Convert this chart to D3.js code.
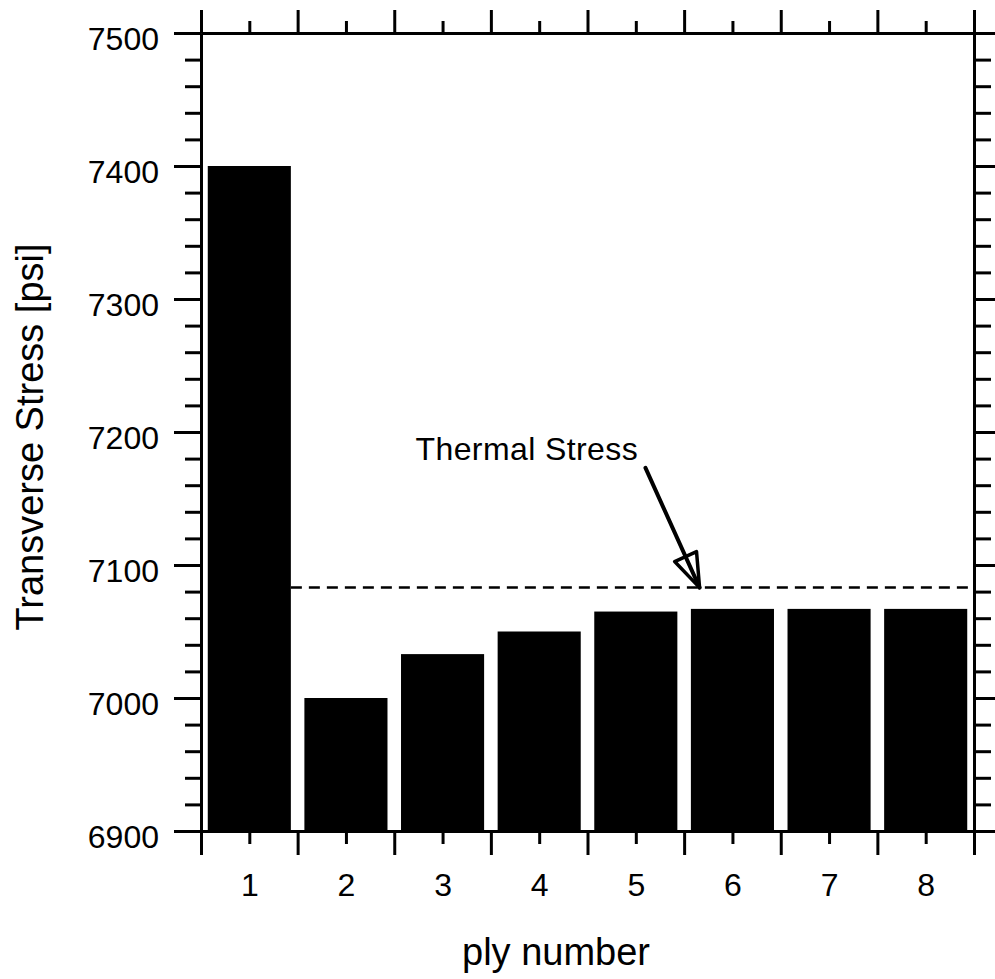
<!DOCTYPE html>
<html>
<head>
<meta charset="utf-8">
<script src="https://cdn.jsdelivr.net/npm/d3@7"></script>
<style>
  html, body { margin: 0; padding: 0; background: #fff; }
  svg { display: block; }
  text { font-family: "Liberation Sans", Arial, Helvetica, sans-serif; fill: #000; }
</style>
</head>
<body>
<svg id="chart" width="995" height="979"></svg>
<script>
// Transverse stress per ply, with the thermal-stress reference level
const plies = [1, 2, 3, 4, 5, 6, 7, 8];
const stress = [7400, 7000, 7033, 7050, 7065, 7067, 7067, 7067];
const thermalStress = 7083;
const yMajorTicks = [6900, 7000, 7100, 7200, 7300, 7400, 7500];
const yMinorTicks = d3.range(6900, 7501, 20).filter(v => v % 100 !== 0);
const xTickLabels = ["1", "2", "3", "4", "5", "6", "7", "8"];

// annotation: label and arrow, in (ply, psi) coordinates
const noteLabel = { text: "Thermal Stress", ply: 2.72, psi: 7179 };
const noteArrow = { fromPly: 5.1, fromPsi: 7173, toPly: 5.66, toPsi: thermalStress };

const svg = d3.select("#chart");
const plotLeft = 201, plotRight = 974, plotTop = 33, plotBottom = 831;

const x = d3.scaleBand().domain(plies).range([plotLeft, plotRight])
  .paddingInner(0.14).paddingOuter(0.07);
const xLin = d3.scaleLinear().domain([0.5, 8.5]).range([plotLeft, plotRight]);
const y = d3.scaleLinear().domain([6900, 7500]).range([plotBottom, plotTop]);

const AX_W = 3;

// thermal stress reference line (dashed)
svg.append("line")
  .attr("x1", x(1) + x.bandwidth()).attr("x2", plotRight)
  .attr("y1", y(thermalStress)).attr("y2", y(thermalStress))
  .attr("stroke", "#000").attr("stroke-width", 2.5)
  .attr("stroke-dasharray", "11,7");

// bars
svg.append("g").selectAll("rect")
  .data(plies.map((p, i) => ({ p, v: stress[i] })))
  .join("rect")
  .attr("x", d => x(d.p))
  .attr("width", x.bandwidth())
  .attr("y", d => y(d.v))
  .attr("height", d => y(6900) - y(d.v))
  .attr("fill", "#000");

function styleAxis(g) {
  g.select(".domain").attr("stroke", "#000").attr("stroke-width", AX_W);
  g.selectAll(".tick line").attr("stroke", "#000").attr("stroke-width", AX_W);
  g.selectAll("text").attr("font-size", 32).attr("font-family", "'Liberation Sans', Arial, sans-serif");
}

// x boundaries between plies (major ticks) and ply centres (minor ticks, labelled)
const bounds = d3.range(0.5, 8.51, 1);

// left axis
svg.append("g").attr("transform", `translate(${plotLeft},0)`)
  .call(d3.axisLeft(y).tickValues(yMajorTicks).tickSize(27).tickSizeOuter(0)
    .tickPadding(15).tickFormat(d3.format("d")))
  .call(styleAxis)
  .call(g => g.selectAll("text").attr("dy", "0.5em"));
svg.append("g").attr("transform", `translate(${plotLeft},0)`)
  .call(d3.axisLeft(y).tickValues(yMinorTicks).tickSize(16).tickSizeOuter(0).tickFormat(""))
  .call(styleAxis);

// right axis
svg.append("g").attr("transform", `translate(${plotRight},0)`)
  .call(d3.axisRight(y).tickValues(yMajorTicks).tickSize(22).tickSizeOuter(0).tickFormat(""))
  .call(styleAxis);
svg.append("g").attr("transform", `translate(${plotRight},0)`)
  .call(d3.axisRight(y).tickValues(yMinorTicks).tickSize(17).tickSizeOuter(0).tickFormat(""))
  .call(styleAxis);

// top axis
svg.append("g").attr("transform", `translate(0,${plotTop})`)
  .call(d3.axisTop(xLin).tickValues(bounds).tickSize(23).tickSizeOuter(0).tickFormat(""))
  .call(styleAxis);
svg.append("g").attr("transform", `translate(0,${plotTop})`)
  .call(d3.axisTop(xLin).tickValues(plies).tickSize(12).tickSizeOuter(0).tickFormat(""))
  .call(styleAxis);

// bottom axis
svg.append("g").attr("transform", `translate(0,${plotBottom})`)
  .call(d3.axisBottom(xLin).tickValues(bounds).tickSize(24).tickSizeOuter(0).tickFormat(""))
  .call(styleAxis);
svg.append("g").attr("transform", `translate(0,${plotBottom})`)
  .call(d3.axisBottom(xLin).tickValues(plies).tickSize(13).tickSizeOuter(0)
    .tickPadding(29).tickFormat((d, i) => xTickLabels[i]))
  .call(styleAxis);

// axis titles
svg.append("text")
  .attr("x", 556).attr("y", 965)
  .attr("text-anchor", "middle")
  .attr("font-size", 38)
  .text("ply number");

svg.append("text")
  .attr("transform", "translate(43,437) rotate(-90)")
  .attr("text-anchor", "middle")
  .attr("font-size", 38)
  .text("Transverse Stress [psi]");

// annotation
svg.append("text")
  .attr("x", xLin(noteLabel.ply)).attr("y", y(noteLabel.psi))
  .attr("font-size", 32)
  .attr("letter-spacing", 0.4)
  .text(noteLabel.text);

const ax1 = xLin(noteArrow.fromPly), ay1 = y(noteArrow.fromPsi);
const ax2 = xLin(noteArrow.toPly), ay2 = y(noteArrow.toPsi);
svg.append("line")
  .attr("x1", ax1).attr("y1", ay1).attr("x2", ax2).attr("y2", ay2)
  .attr("stroke", "#000").attr("stroke-width", 4).attr("stroke-linecap", "round");

// open triangular arrow head
const len = Math.hypot(ax2 - ax1, ay2 - ay1);
const ux = (ax2 - ax1) / len, uy = (ay2 - ay1) / len;
const hl = 34, hw = 12;
const bx = ax2 - ux * hl, by = ay2 - uy * hl;
svg.append("path")
  .attr("d", `M${ax2},${ay2} L${bx - uy * hw},${by + ux * hw} L${bx + uy * hw},${by - ux * hw} Z`)
  .attr("fill", "none").attr("stroke", "#000").attr("stroke-width", 3.5)
  .attr("stroke-linejoin", "round");
</script>
</body>
</html>
